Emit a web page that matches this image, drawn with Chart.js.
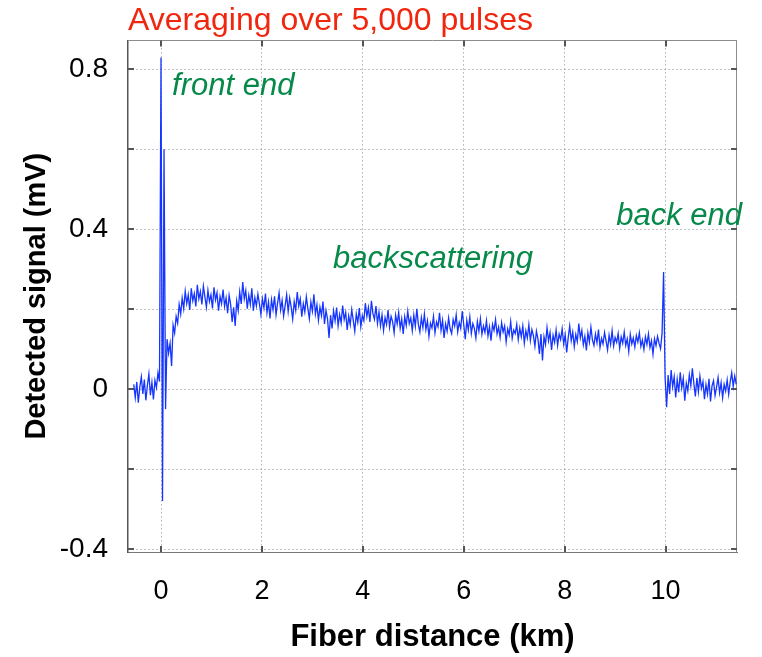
<!DOCTYPE html>
<html>
<head>
<meta charset="utf-8">
<script src="https://cdn.jsdelivr.net/npm/chart.js@4.4.1/dist/chart.umd.min.js"></script>
<style>
  html, body { margin: 0; padding: 0; background: #fff; }
  canvas { display: block; }
</style>
</head>
<body>
<canvas id="otdr" width="762" height="657"></canvas>
<script>
'use strict';
// OTDR trace, one reading every 0.03 km starting at -0.54 km
var distStart = -0.54;
var distStep = 0.03;
var signal = [
  0.012, -0.021, 0.018, -0.034, 0.005, 0.031, -0.012, 0.024, -0.028, 0.009,
  0.038, -0.015, 0.017, -0.026, 0.022, 0.004, 0.041, 0.019,
  0.83, -0.28, 0.6, -0.05,
  0.125, 0.09, 0.115, 0.058, 0.16, 0.14, 0.182, 0.165, 0.212, 0.188,
  0.228, 0.201, 0.245, 0.214, 0.236, 0.198, 0.252, 0.221, 0.239, 0.207,
  0.261, 0.226, 0.244, 0.212, 0.258, 0.231, 0.205, 0.247, 0.219, 0.236,
  0.202, 0.255, 0.223, 0.241, 0.196, 0.232, 0.214, 0.249, 0.207, 0.228,
  0.19, 0.235, 0.212, 0.168, 0.205, 0.158, 0.221, 0.197, 0.244, 0.213,
  0.268, 0.226, 0.247, 0.201, 0.235, 0.212, 0.252, 0.196, 0.229, 0.208,
  0.238, 0.214, 0.187, 0.226, 0.203, 0.239, 0.191, 0.218, 0.177, 0.224,
  0.199, 0.232, 0.186, 0.215, 0.241, 0.198, 0.222, 0.183, 0.209, 0.236,
  0.194, 0.228, 0.205, 0.175, 0.219, 0.197, 0.243, 0.208, 0.226, 0.181,
  0.214, 0.193, 0.231, 0.202, 0.176, 0.218, 0.195, 0.237, 0.188, 0.211,
  0.172, 0.205, 0.184, 0.219, 0.163, 0.197, 0.176, 0.128, 0.185, 0.152,
  0.196, 0.171, 0.204, 0.158, 0.187, 0.166, 0.209, 0.174, 0.192, 0.148,
  0.183, 0.161, 0.199, 0.172, 0.145, 0.188, 0.167, 0.203, 0.156, 0.184,
  0.171, 0.215, 0.182, 0.204, 0.168, 0.221, 0.189, 0.175, 0.208, 0.164,
  0.193, 0.158, 0.186, 0.147, 0.179, 0.162, 0.198, 0.155, 0.182, 0.169,
  0.141, 0.185, 0.163, 0.192, 0.152, 0.176, 0.138, 0.181, 0.159, 0.195,
  0.164, 0.178, 0.146, 0.185, 0.157, 0.201, 0.162, 0.143, 0.179, 0.154,
  0.188, 0.149, 0.171, 0.132, 0.165, 0.153, 0.182, 0.141, 0.168, 0.156,
  0.191, 0.147, 0.172, 0.128, 0.163, 0.145, 0.178, 0.151, 0.139, 0.174,
  0.158, 0.186, 0.143, 0.167, 0.152, 0.195, 0.161, 0.125, 0.172, 0.148,
  0.181, 0.139, 0.164, 0.152, 0.128, 0.169, 0.145, 0.176, 0.137, 0.158,
  0.142, 0.171, 0.133, 0.156, 0.121, 0.162, 0.147, 0.174, 0.138, 0.155,
  0.129, 0.166, 0.143, 0.158, 0.118, 0.151, 0.136, 0.169, 0.127, 0.148,
  0.139, 0.162, 0.124, 0.153, 0.131, 0.158, 0.115, 0.146, 0.128, 0.161,
  0.122, 0.149, 0.134, 0.107, 0.145, 0.126, 0.088, 0.138, 0.072, 0.131,
  0.112, 0.154, 0.121, 0.142, 0.098, 0.135, 0.117, 0.148, 0.109, 0.138,
  0.124, 0.151, 0.113, 0.136, 0.092, 0.129, 0.158, 0.121, 0.143, 0.106,
  0.137, 0.119, 0.164, 0.128, 0.147, 0.111, 0.132, 0.097, 0.141, 0.118,
  0.155, 0.123, 0.109, 0.138, 0.116, 0.149, 0.104, 0.127, 0.113, 0.142,
  0.121, 0.098, 0.135, 0.112, 0.146, 0.108, 0.129, 0.117, 0.139, 0.102,
  0.131, 0.115, 0.143, 0.109, 0.126, 0.094, 0.137, 0.113, 0.128, 0.105,
  0.134, 0.118, 0.141, 0.107, 0.123, 0.099, 0.131, 0.112, 0.138, 0.104,
  0.121, 0.087, 0.126, 0.109, 0.132, 0.115, 0.101, 0.14, 0.293, 0.03,
  -0.045, 0.035, -0.012, 0.048, 0.006, 0.031, -0.021, 0.024, -0.008, 0.042,
  0.003, 0.027, -0.029, 0.015, -0.004, 0.036, 0.009, 0.052, 0.014, -0.018,
  0.028, -0.007, 0.033, 0.002, 0.019, -0.025, 0.011, -0.012, 0.026, -0.031,
  0.008, 0.021, -0.016, 0.005, 0.029, -0.009, 0.016, -0.022, 0.012, -0.005,
  0.023, -0.013, 0.018, 0.041, 0.007, 0.033, 0.012
];
var xTicks = [0, 2, 4, 6, 8, 10];
var yTicks = [-0.4, -0.2, 0, 0.2, 0.4, 0.6, 0.8];
var yLabelled = [-0.4, 0, 0.4, 0.8];
var xRange = [-0.654, 11.415];
var yRange = [-0.4075, 0.8725];
var notes = [
  {text: 'front end', km: 0.22, mv: 0.735},
  {text: 'backscattering', km: 3.41, mv: 0.3025},
  {text: 'back end', km: 9.02, mv: 0.41}
];

var fam = "'Liberation Sans', Arial, Helvetica, sans-serif";
var noteColor = '#07894a';

var points = signal.map(function (v, i) {
  return {x: +(distStart + i * distStep).toFixed(2), y: v};
});

// box on top/right and the small inward tick marks on all four sides
var framePlugin = {
  id: 'frame',
  beforeDatasetsDraw: function (chart) {
    var a = chart.chartArea, ctx = chart.ctx;
    var sx = chart.scales.x, sy = chart.scales.y;
    ctx.save();
    ctx.lineWidth = 1;
    ctx.strokeStyle = '#8c8c8c';
    ctx.beginPath();
    ctx.moveTo(a.left, Math.round(a.top) + 0.5);
    ctx.lineTo(a.right, Math.round(a.top) + 0.5);
    ctx.moveTo(Math.round(a.right) - 0.5, a.top);
    ctx.lineTo(Math.round(a.right) - 0.5, a.bottom);
    ctx.stroke();
    ctx.strokeStyle = '#555';
    ctx.lineWidth = 2;
    ctx.beginPath();
    yTicks.forEach(function (v) {
      var p = Math.round(sy.getPixelForValue(v));
      ctx.moveTo(a.left, p); ctx.lineTo(a.left + 6, p);
      ctx.moveTo(a.right, p); ctx.lineTo(a.right - 6, p);
    });
    xTicks.forEach(function (v) {
      var p = Math.round(sx.getPixelForValue(v));
      ctx.moveTo(p, a.bottom); ctx.lineTo(p, a.bottom - 6);
      ctx.moveTo(p, a.top); ctx.lineTo(p, a.top + 6);
    });
    ctx.stroke();
    ctx.restore();
  }
};

var notesPlugin = {
  id: 'notes',
  afterDraw: function (chart) {
    var ctx = chart.ctx, sx = chart.scales.x, sy = chart.scales.y;
    ctx.save();
    ctx.font = 'italic 31px ' + fam;
    ctx.fillStyle = noteColor;
    ctx.textAlign = 'left';
    ctx.textBaseline = 'alphabetic';
    notes.forEach(function (n) {
      ctx.fillText(n.text, sx.getPixelForValue(n.km), sy.getPixelForValue(n.mv));
    });
    ctx.restore();
  }
};

var ctx = document.getElementById('otdr').getContext('2d');
var otdrChart = new Chart(ctx, {
  type: 'line',
  data: {
    datasets: [{
      data: points,
      borderColor: '#1434ff',
      borderWidth: 1.3,
      pointRadius: 0,
      tension: 0,
      fill: false
    }]
  },
  options: {
    responsive: false,
    animation: false,
    devicePixelRatio: 1,
    layout: { padding: { left: 0, right: 25, top: 0, bottom: 0 } },
    plugins: {
      legend: { display: false },
      tooltip: { enabled: false },
      title: {
        display: true,
        text: 'Averaging over 5,000 pulses',
        align: 'start',
        fullSize: false,
        color: '#f0260e',
        font: { family: fam, size: 32, weight: 'normal' },
        padding: { top: 2, bottom: 0 }
      }
    },
    scales: {
      x: {
        type: 'linear',
        min: xRange[0],
        max: xRange[1],
        afterBuildTicks: function (s) {
          s.ticks = xTicks.map(function (v) { return {value: v}; });
        },
        afterFit: function (s) { s.height = 105; },
        grid: { color: '#8a8a8a', lineWidth: 1, drawTicks: false },
        border: { color: '#777', width: 1, dash: [1, 3] },
        ticks: {
          color: '#000',
          font: { family: fam, size: 27 },
          padding: 23,
          maxRotation: 0,
          callback: function (v) { return String(v); }
        },
        title: {
          display: true,
          text: 'Fiber distance (km)',
          color: '#000',
          font: { family: fam, size: 31, weight: 'bold' },
          padding: { top: 0, bottom: 1 }
        }
      },
      y: {
        type: 'linear',
        min: yRange[0],
        max: yRange[1],
        afterBuildTicks: function (s) {
          s.ticks = yTicks.map(function (v) { return {value: v}; });
        },
        afterFit: function (s) { s.width = 128; },
        grid: { color: '#8a8a8a', lineWidth: 1, drawTicks: false },
        border: { color: '#555', width: 1.5, dash: [1, 3] },
        ticks: {
          color: '#000',
          font: { family: fam, size: 28 },
          padding: 20,
          callback: function (v) {
            return yLabelled.indexOf(v) >= 0 ? String(v) : '';
          }
        },
        title: {
          display: true,
          text: 'Detected signal (mV)',
          color: '#000',
          font: { family: fam, size: 29, weight: 'bold' },
          padding: { top: 20, bottom: 0 }
        }
      }
    }
  },
  plugins: [framePlugin, notesPlugin]
});
</script>
</body>
</html>
